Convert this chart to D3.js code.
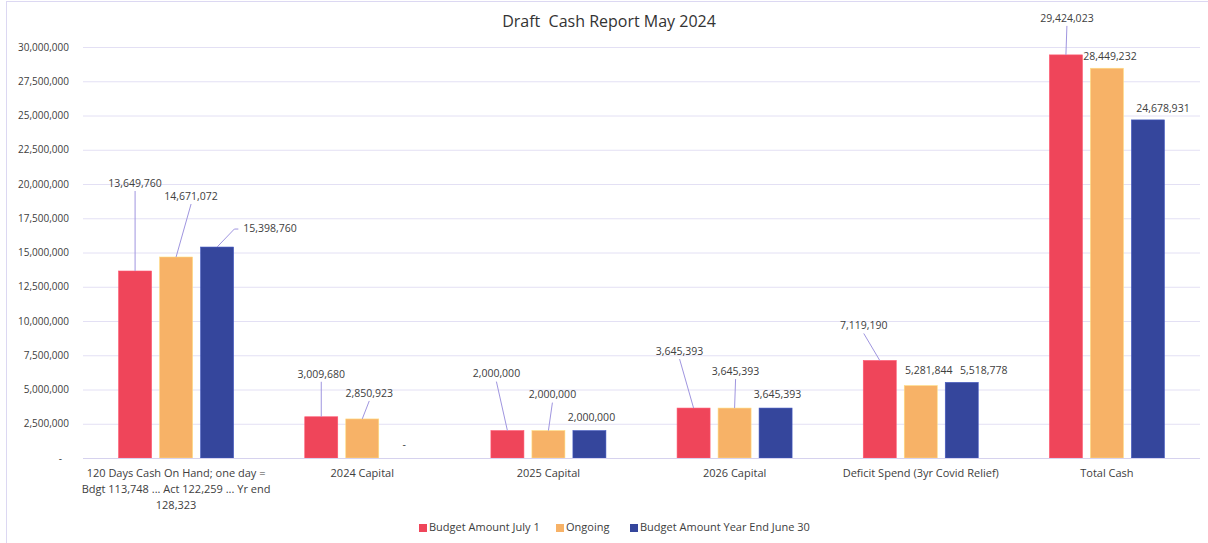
<!DOCTYPE html>
<html><head><meta charset="utf-8">
<script src="https://cdn.jsdelivr.net/npm/d3@7"></script>
<style>body{margin:0;background:#fff;}svg{display:block;font-family:"Open Sans",sans-serif;}</style>
</head><body><svg id="c" width="1208" height="543"></svg>
<script>
const categories = ["120 Days Cash On Hand; one day = Bdgt 113,748 ... Act 122,259 ... Yr end 128,323","2024 Capital","2025 Capital","2026 Capital","Deficit Spend (3yr Covid Relief)","Total Cash"];
const categoryLines = [["120 Days Cash On Hand; one day =","Bdgt 113,748 ... Act 122,259 ... Yr end","128,323"],["2024 Capital"],["2025 Capital"],["2026 Capital"],["Deficit Spend (3yr Covid Relief)"],["Total Cash"]];
const seriesNames = ["Budget Amount July 1","Ongoing","Budget Amount Year End June 30"];
const budgetJuly1 = [13649760,3009680,2000000,3645393,7119190,29424023];
const ongoing = [14671072,2850923,2000000,3645393,5281844,28449232];
const budgetYearEnd = [15398760,0,2000000,3645393,5518778,24678931];
const yTicks = [0,2500000,5000000,7500000,10000000,12500000,15000000,17500000,20000000,22500000,25000000,27500000,30000000];
const colors = ["#EF455A","#F7B267","#35469C"];
// label placement offsets [dx, dy, leader] relative to bar top centre (styling)
const labelOffsets = [
 [[0,-87,1],[15,-60,1],[53,-18,2]],
 [[0,-42,1],[7,-25,1],[1,-13,0]],
 [[-11,-56,1],[4,-35,1],[2,-12,0]],
 [[-14,-56,1],[1,-36,1],[2,-13,0]],
 [[-16,-34,1],[8,-14,0],[22,-11,0]],
 [[1,-36,1],[3,-11,0],[15,-11,0]]
];
const seriesData = [budgetJuly1, ongoing, budgetYearEnd];

const svg = d3.select("#c");
svg.append("rect").attr("x",6.5).attr("y",1.5).attr("width",1210).attr("height",560)
  .attr("fill","#fff").attr("stroke","#dcd8f2").attr("stroke-width",1);

const pLeft=83,pRight=1200,pTop=47,pBottom=458;
const x0 = d3.scaleBand().domain(categories).range([pLeft,pRight]);
const bw = x0.bandwidth();
const x1 = d3.scaleBand().domain(seriesNames).range([bw/2-61.5,bw/2+61.5]).paddingInner(8/41).paddingOuter(4/41);
const y = d3.scaleLinear().domain([0,30000000]).range([pBottom,pTop]);
const fmt = d3.format(",");

// gridlines
svg.append("g").selectAll("line").data(yTicks.filter(d=>d>0)).join("line")
  .attr("x1",pLeft).attr("x2",pRight).attr("y1",d=>y(d)+0.5).attr("y2",d=>y(d)+0.5)
  .attr("stroke","#e3e0f4").attr("stroke-width",1);
// y axis labels
const ya = svg.append("g").attr("transform",`translate(69,0)`)
  .call(d3.axisLeft(y).tickValues(yTicks).tickSize(0).tickPadding(0).tickFormat(d=>d===0?"-":fmt(d)));
ya.select(".domain").remove();
ya.selectAll("text").attr("font-family","Open Sans").attr("font-size",10).attr("fill","#404040")
  .attr("dx",d=>d===0?-7:0);

// bars
const groups = svg.append("g").selectAll("g").data(categories).join("g")
  .attr("transform",d=>`translate(${x0(d)},0)`);
groups.selectAll("rect").data((d,i)=>seriesNames.map((s,j)=>({s,j,i,v:seriesData[j][i]}))).join("rect")
  .attr("x",d=>x1(d.s)).attr("width",x1.bandwidth())
  .attr("y",d=>y(d.v)).attr("height",d=>pBottom-y(d.v))
  .attr("fill",d=>colors[d.j]).attr("stroke",d=>d3.color(colors[d.j]).brighter(0.6)).attr("stroke-width",0.6);

// axis line
svg.append("line").attr("x1",pLeft).attr("x2",pRight).attr("y1",pBottom+0.5).attr("y2",pBottom+0.5)
  .attr("stroke","#d6d2ee").attr("stroke-width",1.2);

// data labels
const labG = svg.append("g");
categories.forEach((c,i)=>{
  seriesNames.forEach((s,j)=>{
    const v = seriesData[j][i];
    const bx = x0(c)+x1(s)+x1.bandwidth()/2, by = y(v);
    const [dx,dy,lead] = labelOffsets[i][j];
    const tx = bx+dx, ty = by+dy;
    const t = labG.append("text").attr("x",tx).attr("y",ty).attr("text-anchor","middle")
      .attr("dominant-baseline","middle").attr("font-size",10.5).attr("fill","#404040")
      .text(v===0?"-":fmt(v));
    if(lead===1){
      labG.append("line").attr("x1",tx).attr("y1",ty+7).attr("x2",bx).attr("y2",by)
        .attr("stroke","#9f95df").attr("stroke-width",1);
    } else if(lead===2){
      const w = t.node().getComputedTextLength();
      const lx = tx-w/2-5;
      labG.append("path").attr("d",`M${lx},${ty}L${lx-4},${ty}L${bx},${by}`)
        .attr("fill","none").attr("stroke","#9f95df").attr("stroke-width",1);
    }
  });
});

// category labels
const xl = svg.append("g");
categories.forEach((c,i)=>{
  const t = xl.append("text").attr("x",x0(c)+bw/2).attr("y",477).attr("text-anchor","middle")
    .attr("font-size",11).attr("fill","#404040");
  categoryLines[i].forEach((ln,k)=>t.append("tspan").attr("x",x0(c)+bw/2).attr("dy",k===0?0:16).text(ln));
});

// title
svg.append("text").attr("x",609).attr("y",27).attr("text-anchor","middle")
  .attr("font-size",16).attr("fill","#333").attr("xml:space","preserve").text("Draft  Cash Report May 2024");

// legend
const legX = [419,556,630];
const lg = svg.append("g");
seriesNames.forEach((s,j)=>{
  lg.append("rect").attr("x",legX[j]).attr("y",524).attr("width",8).attr("height",8).attr("fill",colors[j]);
  lg.append("text").attr("x",legX[j]+10).attr("y",528).attr("dominant-baseline","middle")
    .attr("font-size",11).attr("fill","#404040").text(s);
});
</script></body></html>
